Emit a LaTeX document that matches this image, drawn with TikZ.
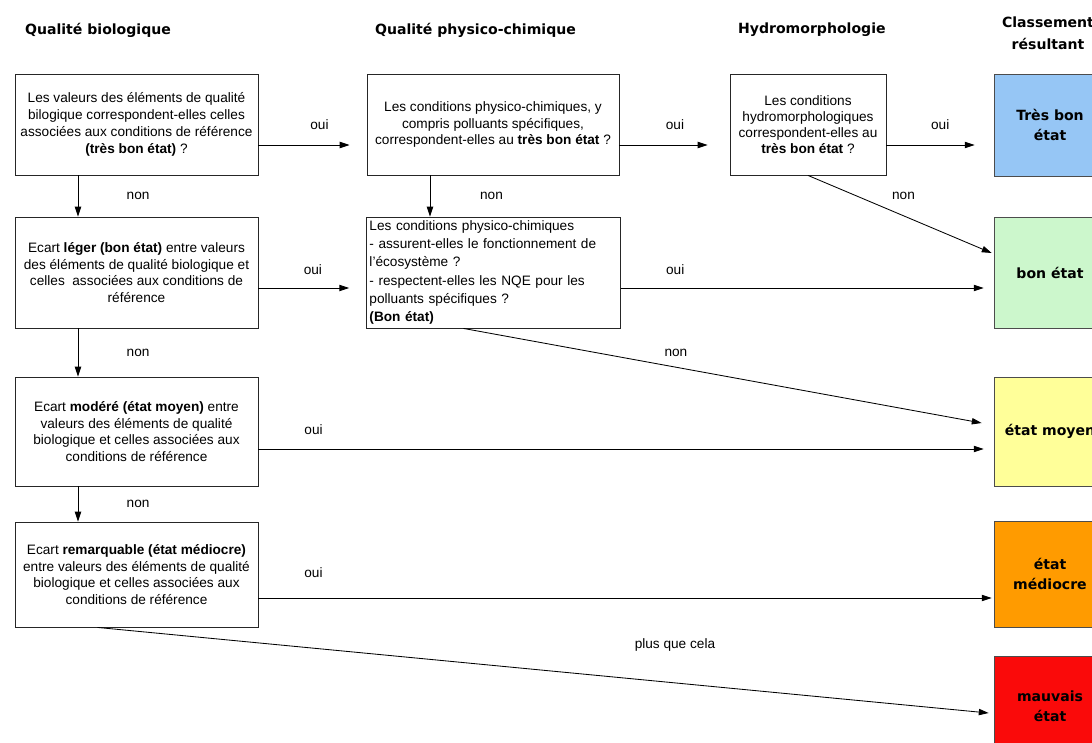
\documentclass[tikz,border=0pt]{standalone}
\usepackage{fontspec}
\setmainfont{Liberation Sans}
\newfontfamily\titlefont{DejaVu Sans}
\usepackage{xcolor}
\usepackage{tikz}
\usetikzlibrary{positioning,calc,arrows.meta}
\definecolor{tresbon}{RGB}{150,198,245}
\definecolor{bonetat}{RGB}{204,247,204}
\definecolor{moyen}{RGB}{255,255,153}
\definecolor{mediocre}{RGB}{255,155,0}
\definecolor{mauvais}{RGB}{250,10,10}

\begin{document}
\begin{tikzpicture}[x=0.025cm, y=-0.025cm, line width=0.6pt,
    >={Triangle[length=7pt,width=4.5pt]},
    box/.style={draw=black!85, align=center, inner sep=2pt, font=\fontsize{9.7}{12}\selectfont},
    etat/.style={draw=black!70, line width=0.5pt, minimum width=2.8cm, align=center, font=\titlefont\bfseries\fontsize{10}{14.5}\selectfont},
    titre/.style={font=\titlefont\bfseries\fontsize{10}{15.5}\selectfont, align=center},
    lbl/.style={font=\fontsize{9.7}{12}\selectfont}]
    \clip (0,0) rectangle (1092,743);

    \node[titre, anchor=west] (t1) at (20,30) {Qualité biologique};
    \node[titre, anchor=west] (t2) at (370,30) {Qualité physico-chimique};
    \node[titre, anchor=west] (t3) at (733,30) {Hydromorphologie};
    \node[titre] (t4) at (1048,33) {Classement\\résultant};

    \node[box, minimum width=6.075cm, minimum height=2.525cm] (bio1) at (136.5,124.5) {Les valeurs des éléments de qualité\\bilogique correspondent-elles celles\\associées aux conditions de référence\\\textbf{(très bon état)} ?};
    \node[box, minimum width=6.075cm, minimum height=2.775cm] (bio2) at (136.5,272.5) {Ecart \textbf{léger (bon état)} entre valeurs\\des éléments de qualité biologique et\\celles~ associées aux conditions de\\référence};
    \node[box, minimum width=6.075cm, minimum height=2.725cm] (bio3) at (136.5,431.5) {Ecart \textbf{modéré (état moyen)} entre\\valeurs des éléments de qualité\\biologique et celles associées aux\\conditions de référence};
    \node[box, minimum width=6.075cm, minimum height=2.625cm] (bio4) at (136.5,574.5) {Ecart \textbf{remarquable (état médiocre)}\\entre valeurs des éléments de qualité\\biologique et celles associées aux\\conditions de référence};

    \node[box, minimum width=6.3cm, minimum height=2.525cm] (phys1) at (493,124.5) {Les conditions physico-chimiques, y\\compris polluants spécifiques,\\correspondent-elles au \textbf{très bon état} ?};
    \node[box, align=left, text width=6.2cm, minimum height=2.775cm, font=\fontsize{9.7}{13}\selectfont] (phys2) at (493.5,272.5) {Les conditions physico-chimiques\\- assurent-elles le fonctionnement de\\l'écosystème ?\\- respectent-elles les NQE pour les\\polluants spécifiques ?\\\textbf{(Bon état)}};
    \node[box, minimum width=3.9cm, minimum height=2.525cm, font=\fontsize{9.7}{11.5}\selectfont] (hydro) at (808,124.5) {Les conditions\\hydromorphologiques\\correspondent-elles au\\\textbf{très bon état} ?};

    \node[etat, fill=tresbon, minimum height=2.55cm] (tbe) at (1050,125) {Très bon\\état};
    \node[etat, fill=bonetat, minimum height=2.775cm] (be) at (1050,272.5) {bon état};
    \node[etat, fill=moyen, minimum height=2.725cm] (moy) at (1050,431.5) {état moyen};
    \node[etat, fill=mediocre, minimum height=2.65cm] (med) at (1050,574) {état\\médiocre};
    \node[etat, fill=mauvais, minimum height=2.5cm] (mauv) at (1050,706) {mauvais\\état};

    \coordinate (c1) at (78,0);
    \coordinate (c2) at (430,0);
    \coordinate (r1) at (0,145);
    \coordinate (r2) at (0,288);
    \coordinate (r3) at (0,449);
    \coordinate (r4) at (0,598);

    \draw[->] (bio1.east |- r1) -- node[lbl, pos=0.67, above=7pt] {oui} ($(phys1.west |- r1)+(-17,0)$);
    \draw[->] (phys1.east |- r1) -- node[lbl, pos=0.63, above=7pt] {oui} ($(hydro.west |- r1)+(-22,0)$);
    \draw[->] (hydro.east |- r1) -- node[lbl, pos=0.61, above=7pt] {oui} ($(tbe.west |- r1)+(-19,0)$);
    \draw[->] (bio2.east |- r2) -- node[lbl, pos=0.6, above=6pt] {oui} ($(phys2.west |- r2)+(-17,0)$);
    \draw[->] (phys2.east |- r2) -- node[lbl, pos=0.15, above=6pt] {oui} ($(be.west |- r2)+(-10,0)$);
    \draw[->] (bio3.east |- r3) -- node[lbl, pos=0.076, above=6.5pt] {oui} ($(moy.west |- r3)+(-10,0)$);
    \draw[->] (bio4.east |- r4) -- node[lbl, pos=0.075, above=10.5pt] {oui} ($(med.west |- r4)+(-2,0)$);

    \draw[->] (bio1.south -| c1) -- node[lbl, right=31pt] {non} (bio2.north -| c1);
    \draw[->] (bio2.south -| c1) -- node[lbl, right=31pt] {non} (bio3.north -| c1);
    \draw[->] (bio3.south -| c1) -- node[lbl, right=31pt] {non} (bio4.north -| c1);
    \draw[->] (phys1.south -| c2) -- node[lbl, right=32pt] {non} (phys2.north -| c2);

    \draw[->] (hydro.south) -- node[lbl, pos=0.52, above=8pt] {non} ($(be.west)+(-2,-19.5)$);
    \draw[->] ($(phys2.south)+(-30,0)$) -- node[lbl, pos=0.41, above=4pt] {non} ($(moy.west)+(-12,-8.5)$);
    \draw[->] ($(bio4.south)+(-39,0)$) -- node[lbl, pos=0.648, above=19pt] {plus que cela} ($(mauv.west)+(-5,7)$);
\end{tikzpicture}
\end{document}
